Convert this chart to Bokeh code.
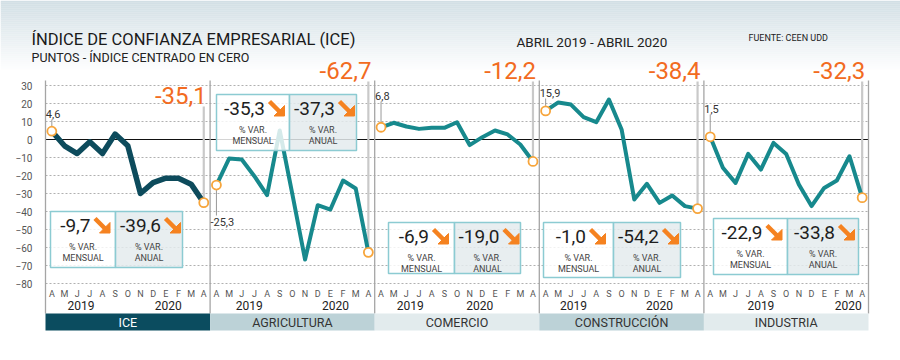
from bokeh.plotting import figure
from bokeh.models import Range1d, FixedTicker
from bokeh.core.properties import value
from bokeh.embed import file_html
from bokeh.resources import INLINE

# ---------------- data ----------------
sectors = ["ICE", "AGRICULTURA", "COMERCIO", "CONSTRUCCIÓN", "INDUSTRIA"]
months = ["A", "M", "J", "J", "A", "S", "O", "N", "D", "E", "F", "M", "A"]
years = ["2019", "2020"]
y_ticks = [-80, -70, -60, -50, -40, -30, -20, -10, 0, 10, 20, 30]

ice = [4.6, -3.5, -7.8, -1.3, -7.8, 3.0, -3.5, -30.0, -24.0, -21.5, -21.5, -24.8, -35.1]
agricultura = [-25.3, -10.6, -11.1, -20.4, -30.9, 5.0, -30.5, -66.7, -36.5, -38.9, -22.8, -27.2, -62.7]
comercio = [6.8, 9.3, 7.2, 5.9, 6.5, 6.5, 9.6, -3.1, 1.3, 5.0, 2.8, -2.8, -12.2]
construccion = [15.9, 20.6, 19.4, 12.4, 9.6, 22.2, 5.6, -33.3, -24.6, -35.2, -31.1, -37.0, -38.4]
industria = [1.5, -15.7, -24.1, -8.0, -16.7, -1.9, -8.0, -25.0, -37.0, -26.9, -22.8, -9.3, -32.3]

var_mensual = [-9.7, -35.3, -6.9, -1.0, -22.9]
var_anual = [-39.6, -37.3, -19.0, -54.2, -33.8]

series = [ice, agricultura, comercio, construccion, industria]

# ---------------- layout helpers (reference pixel -> data) ----------------
W, H = 900, 360
X0, X1 = 45, 868
PX = (X1 - X0) / 65.0
PY = 1.8
ZERO = 139.0


def xd(px):
    return (px - X0) / PX - 0.5


def yd(py):
    return (ZERO - py) / PY


def xpx(x):
    return X0 + (x + 0.5) * PX


def ypx(v):
    return ZERO - v * PY


def fmt(v):
    return ("%.1f" % v).replace(".", ",")


FONT = "Roboto"
ORANGE = "#F26B21"
MARK = "#F7A53B"
ARROW = "#F58220"

p = figure(width=W, height=H, output_backend="svg", toolbar_location=None,
           x_range=Range1d(xd(0), xd(W)), y_range=Range1d(yd(H), yd(0)),
           x_axis_location=None, min_border_left=0, min_border_right=0,
           min_border_top=0, min_border_bottom=0)
p.outline_line_color = None
p.background_fill_color = "#FFFFFF"
p.border_fill_color = "#FFFFFF"

# header background gradient (decoration)
top_rgb = (0xD2, 0xDF, 0xE5)
steps = 36
g_left, g_right, g_top, g_bot, g_col = [], [], [], [], []
for k in range(steps):
    t = k / (steps - 1.0)
    c = tuple(int(round(a + (255 - a) * t)) for a in top_rgb)
    g_left.append(xd(0))
    g_right.append(xd(W))
    g_top.append(yd(2 * k))
    g_bot.append(yd(2 * k + 2.2))
    g_col.append("#%02x%02x%02x" % c)
p.quad(left=g_left, right=g_right, top=g_top, bottom=g_bot, fill_color=g_col, line_color=None)

p.xgrid.visible = False
p.ygrid.visible = False

p.yaxis.ticker = FixedTicker(ticks=y_ticks)
p.yaxis.fixed_location = -0.5
p.yaxis.axis_line_color = None
p.yaxis.major_tick_line_color = None
p.yaxis.minor_tick_line_color = None
p.yaxis.major_label_text_font = FONT
p.yaxis.major_label_text_font_size = "10px"
p.yaxis.major_label_text_color = "#555555"
p.yaxis.major_label_standoff = 7

# horizontal grid and zero line
grid_ticks = [t for t in y_ticks if t != 0]
p.segment(x0=[-0.5] * len(grid_ticks), y0=grid_ticks, x1=[64.5] * len(grid_ticks), y1=grid_ticks,
          line_color="#B0B0B0", line_width=1, line_dash="2 2")
p.segment(x0=[-0.5], y0=[0], x1=[64.5], y1=[0], line_color="#111111", line_width=1.2)

# panel dividers
div_x = [13 * i - 0.5 for i in range(6)]
p.segment(x0=div_x, y0=[yd(80)] * 6, x1=div_x, y1=[yd(313)] * 6,
          line_color="#A5A5A5", line_width=1.3)

# per-panel layout
first_label_py = [113, 221, 95, 92, 108]
big_label_py = [95, 70, 70, 70, 70]
boxes = [  # left, right, top, bottom, divider (ref px)
    (50, 182, 211, 267, 115),
    (216, 356, 94, 150, 289),
    (388, 520, 222, 273, 454),
    (543, 680, 222, 277, 613),
    (713, 858, 218, 274, 787),
]
year_pos = [(2.3, 9.2), (2.6, 9.4), (2.3, 7.8), (2.2, 9.0), (4.0, 10.9)]
band_fill = ["#0B4C5F", "#BCD2D7", "#E2EBED", "#BCD2D7", "#E2EBED"]
band_text = ["#FFFFFF", "#333333", "#333333", "#333333", "#333333"]
line_col = ["#0D4B5C", "#17898D", "#17898D", "#17898D", "#17898D"]
line_w = [5.5, 4, 4, 4, 4]


def arrow(cx, cy):
    p.segment(x0=[xd(cx - 7)], y0=[yd(cy - 7)], x1=[xd(cx + 3)], y1=[yd(cy + 3)],
              line_color=ARROW, line_width=4.5)
    p.patch(x=[xd(cx + 8), xd(cx + 8), xd(cx - 2.5)], y=[yd(cy - 3), yd(cy + 7.5), yd(cy + 7.5)],
            fill_color=ARROW, line_color=ARROW, line_width=1)


def val_width(s):
    w = 0
    for ch in s:
        w += 9 if ch.isdigit() else (5 if ch == "-" else 4)
    return w


for i, vals in enumerate(series):
    xs = [13 * i + k for k in range(13)]
    xf, xl = xs[0], xs[-1]
    vf, vl = vals[0], vals[-1]

    # leader for last value (orange label)
    top_py = big_label_py[i] + 11
    p.segment(x0=[xl], y0=[yd(top_py)], x1=[xl], y1=[vl - 4 / PY],
              line_color="#C9C9C9", line_width=2.2)
    p.text(x=[xd(xpx(xl) + 3)], y=[yd(big_label_py[i])], text=[fmt(vl)],
           text_font=value(FONT), text_font_size="24px", text_color=ORANGE,
           text_align="right", text_baseline="middle")

    # leader for first value
    lpy = first_label_py[i]
    if lpy < ypx(vf):
        y0, y1 = yd(lpy + 6), vf + 5 / PY
    else:
        y0, y1 = yd(lpy - 6), vf - 5 / PY
    p.segment(x0=[xf], y0=[y0], x1=[xf], y1=[y1], line_color="#999999", line_width=1)
    p.text(x=[xd(xpx(xf) - 6)], y=[yd(lpy)], text=[fmt(vf)],
           text_font=value(FONT), text_font_size="11px", text_color="#333333",
           text_align="left", text_baseline="middle")

    # series line
    p.line(xs, vals, line_color=line_col[i], line_width=line_w[i],
           line_join="round", line_cap="round")

    # stat box
    bl, br, bt, bb, bd = boxes[i]
    p.quad(left=[xd(bl)], right=[xd(bd)], top=[yd(bt)], bottom=[yd(bb)],
           fill_color="#FFFFFF", fill_alpha=0.82, line_color="#8CCBD2", line_width=1.5)
    p.quad(left=[xd(bd)], right=[xd(br)], top=[yd(bt)], bottom=[yd(bb)],
           fill_color="#E4EBED", fill_alpha=0.85, line_color="#8CCBD2", line_width=1.5)
    for (c0, c1), v, lab in [((bl, bd), var_mensual[i], "MENSUAL"), ((bd, br), var_anual[i], "ANUAL")]:
        cc = (c0 + c1) / 2.0
        s = fmt(v)
        wv = val_width(s)
        vr = cc + wv / 2.0 - 6
        p.text(x=[xd(vr)], y=[yd(bt + 14)], text=[s], text_font=value(FONT),
               text_font_size="19px", text_color="#1E1E1E",
               text_align="right", text_baseline="middle")
        arrow(vr + 11.5, bt + 14)
        p.text(x=[xd(cc), xd(cc)], y=[yd(bt + 35), yd(bt + 46)], text=["% VAR.", lab],
               text_font=value(FONT), text_font_size="9px", text_color="#444444",
               text_align="center", text_baseline="middle")

    # end markers
    p.scatter([xf, xl], [vf, vl], size=9, fill_color="#FFFFFF", line_color=MARK, line_width=1.8)

    # month letters and years
    p.text(x=xs, y=[yd(293)] * 13, text=months, text_font=value(FONT),
           text_font_size="9px", text_color="#555555", text_align="center", text_baseline="middle")
    p.text(x=[13 * i + year_pos[i][0], 13 * i + year_pos[i][1]], y=[yd(305)] * 2, text=years,
           text_font=value(FONT), text_font_size="12px", text_color="#222222",
           text_align="center", text_baseline="middle")

    # sector band
    p.quad(left=[13 * i - 0.5], right=[13 * i + 12.5], top=[yd(313)], bottom=[yd(330)],
           fill_color=band_fill[i], line_color=None)
    p.text(x=[13 * i + 6], y=[yd(321.5)], text=[sectors[i]], text_font=value(FONT),
           text_font_size="12.5px", text_color=band_text[i], text_align="center", text_baseline="middle")

# header texts
p.text(x=[xd(31)], y=[yd(38.5)], text=["ÍNDICE DE CONFIANZA EMPRESARIAL (ICE)"],
       text_font=value(FONT), text_font_size="16.5px", text_color="#1A1A1A", text_baseline="middle")
p.text(x=[xd(31)], y=[yd(56.5)], text=["PUNTOS - ÍNDICE CENTRADO EN CERO"],
       text_font=value(FONT), text_font_size="12.5px", text_color="#222222", text_baseline="middle")
p.text(x=[xd(516)], y=[yd(41)], text=["ABRIL 2019 - ABRIL 2020"],
       text_font=value(FONT), text_font_size="13.5px", text_color="#222222", text_baseline="middle")
p.text(x=[xd(748)], y=[yd(37)], text=["FUENTE: CEEN UDD"],
       text_font=value(FONT), text_font_size="9px", text_color="#222222", text_baseline="middle")

open("out.html", "w").write(file_html(p, INLINE))
